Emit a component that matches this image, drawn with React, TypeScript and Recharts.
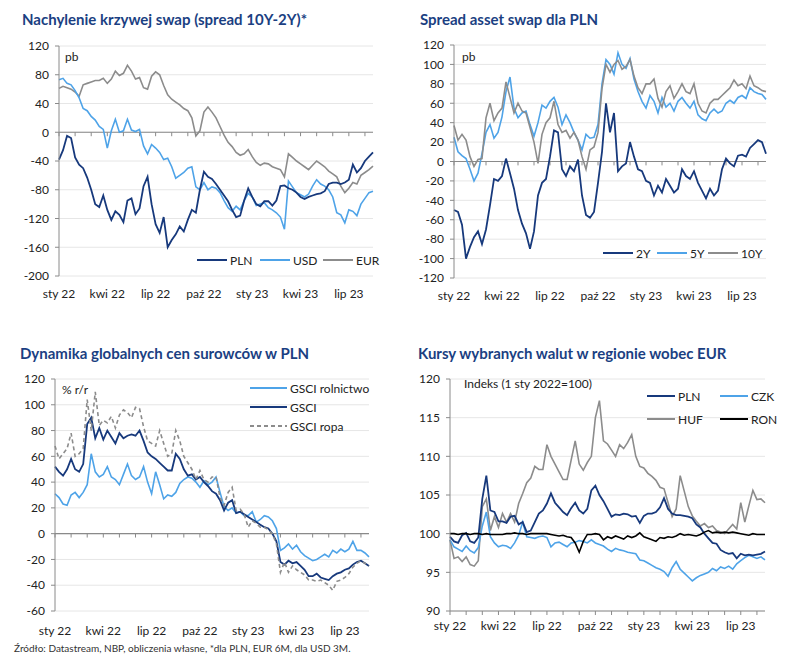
import React from 'react'
import { LineChart, Line, XAxis, YAxis, CartesianGrid, ReferenceLine } from 'recharts'

// x axis: months since 1 Jan 2022, one point roughly every week
const QUARTER_TICKS = [0, 3, 6, 9, 12, 15, 18]
const QUARTER_LABELS = ['sty 22', 'kwi 22', 'lip 22', 'paź 22', 'sty 23', 'kwi 23', 'lip 23']
const MONTH_TICKS = [0, 1, 2, 3, 4, 5, 6, 7, 8, 9, 10, 11, 12, 13, 14, 15, 16, 17, 18, 19]
const STEP = 0.25

// Nachylenie krzywej swap (pb)
const SLOPE_PLN = [
  -38, -25, -5, -8, -35, -45, -50, -63, -80, -100,
  -104, -88, -108, -122, -110, -115, -125, -95, -92, -114,
  -106, -75, -62, -100, -128, -140, -118, -160, -150, -142,
  -131, -138, -122, -108, -112, -80, -55, -62, -65, -72,
  -80, -88, -96, -108, -118, -116, -95, -78, -90, -100,
  -103, -96, -96, -102, -95, -75, -74, -78, -80, -84,
  -90, -93, -90, -88, -86, -85, -82, -72, -70, -70,
  -72, -70, -66, -45, -56, -50, -40, -34, -28,
]
const SLOPE_USD = [
  73, 75, 68, 66, 58, 48, 33, 30, 22, 17,
  8, 4, -22, 2, 18, 0, 2, 18, 3, 1,
  4, -19, -30, -17, -22, -28, -38, -36, -48, -64,
  -60, -56, -50, -48, -76, -80, -70, -80, -76, -78,
  -84, -95, -105, -110, -103, -108, -95, -85, -90, -102,
  -100, -98, -105, -108, -112, -118, -135, -68, -76, -84,
  -87, -90, -86, -75, -66, -72, -75, -80, -90, -112,
  -115, -126, -108, -110, -116, -100, -92, -84, -82,
]
const SLOPE_EUR = [
  61, 64, 62, 60, 56, 50, 66, 68, 70, 72,
  72, 75, 68, 74, 85, 79, 82, 93, 85, 74,
  76, 62, 60, 78, 84, 80, 65, 52, 46, 42,
  38, 33, 30, 20, -5, 2, 28, 35, 28, 20,
  8, -4, -14, -20, -28, -32, -30, -24, -34, -42,
  -46, -43, -44, -48, -50, -52, -62, -30, -35, -40,
  -44, -48, -52, -46, -40, -44, -48, -54, -58, -62,
  -75, -84, -78, -70, -72, -60, -56, -52, -47,
]

// Spread asset swap dla PLN (pb)
const ASW_2Y = [
  -50, -52, -65, -100, -88, -78, -72, -85, -70, -45,
  -18, -20, -15, 3, -12, -28, -50, -64, -74, -90,
  -72, -35, -22, -18, 5, 32, 30, -8, -15, -5,
  -10, 2, -35, -55, -58, -52, -22, 10, 60, 30,
  50, -10, -5, -2, 20, 5, -8, -10, -20, -22,
  -35, -25, -32, -18, -25, -32, -28, -8, -15, -18,
  -10, -22, -30, -38, -28, -35, -30, -8, 3, -2,
  -5, 6, 7, 5, 14, 18, 22, 20, 8,
]
const ASW_5Y = [
  25, 10, 6, 3, -8, -20, -12, 8, 30, 38,
  24, 30, 46, 72, 87, 55, 45, 50, 52, 38,
  26, 40, 58, 55, 62, 66, 56, 38, 48, 40,
  30, 22, 12, 28, 24, 25, 38, 80, 105, 100,
  90, 112, 100, 96, 106, 85, 72, 62, 55, 68,
  62, 50, 66, 56, 60, 52, 62, 66, 60, 55,
  62, 48, 44, 42, 50, 54, 50, 52, 60, 63,
  60, 66, 68, 65, 76, 72, 70, 69, 64,
]
const ASW_10Y = [
  37, 22, 28, 22, 5, -5, 2, 3, 45, 60,
  42, 50, 55, 82, 66, 50, 60, 52, 50, 35,
  20, -2, 28, 40, 45, 62, 38, 30, 32, 24,
  30, 22, 5, -8, 12, 15, 30, 75, 100, 92,
  100, 104, 95, 98, 105, 88, 76, 70, 80, 80,
  85, 65, 56, 72, 78, 65, 72, 80, 72, 70,
  80, 60, 52, 50, 60, 64, 64, 68, 72, 76,
  84, 78, 80, 75, 88, 78, 76, 73, 72,
]

// Dynamika globalnych cen surowców w PLN (% r/r)
const GSCI_AGRI = [
  31, 28, 23, 22, 30, 32, 28, 32, 38, 62,
  48, 44, 46, 52, 44, 42, 38, 46, 54, 45,
  42, 44, 52, 40, 31, 48, 38, 27, 30, 29,
  32, 39, 42, 44, 43, 40, 36, 41, 38, 40,
  44, 32, 21, 18, 20, 16, 17, 14, 14, 17,
  9, 11, 14, 13, 10, 4, -13, -11, -8, -12,
  -9, -14, -17, -19, -21, -20, -18, -16, -18, -13,
  -15, -12, -14, -12, -6, -13, -13, -15, -18,
]
const GSCI_ALL = [
  52, 48, 45, 50, 58, 50, 48, 54, 85, 90,
  74, 82, 73, 80, 75, 70, 78, 74, 76, 77,
  76, 80, 72, 63, 60, 58, 55, 52, 49, 49,
  62, 58, 50, 45, 46, 42, 44, 40, 37, 33,
  31, 26, 18, 24, 26, 16, 17, 15, 13, 11,
  9, 7, 5, 4, 0, -6, -22, -24, -21, -23,
  -22, -25, -28, -33, -33, -31, -34, -35, -36, -33,
  -31, -30, -28, -27, -24, -22, -21, -23, -25,
]
const GSCI_OIL = [
  68, 58, 62, 66, 78, 60, 62, 66, 104, 80,
  110, 84, 88, 86, 91, 82, 92, 96, 94, 90,
  98, 97, 83, 72, 70, 68, 80, 70, 60, 62,
  80, 72, 60, 55, 50, 42, 49, 42, 40, 44,
  44, 28, 22, 32, 36, 18, 19, 15, 5, 10,
  8, 5, 5, 3, 0, -8, -30, -22, -30, -25,
  -28, -30, -32, -36, -36, -37, -36, -38, -40, -44,
  -37, -36, -34, -31, -26, -23, -21, -23, -25,
]

// Kursy wybranych walut wobec EUR (1 sty 2022 = 100)
const FX_PLN = [
  99.6, 99.0, 98.8, 99.8, 100.1, 99.0, 98.8, 99.5, 104.5, 107.5,
  103.0, 102.8, 101.6, 101.6, 101.4, 102.2, 102.3, 101.2, 101.5, 100.2,
  100.4, 101.5, 102.6, 103.0, 103.9, 105.2, 104.0, 103.4, 102.8, 102.4,
  103.3, 104.0, 103.0, 102.6, 103.2, 105.6, 106.2, 105.0, 104.2, 103.2,
  102.2, 102.5, 102.4, 102.6, 102.5, 102.2, 102.3, 101.4, 102.3, 102.6,
  102.6, 102.8, 103.4, 104.6, 103.2, 102.6, 102.4, 102.4, 102.3, 102.2,
  102.0, 101.2, 100.8, 100.0, 99.4, 98.8, 98.7, 97.9, 97.6, 97.4,
  97.5, 96.8, 97.4, 97.2, 97.3, 97.2, 97.3, 97.4, 97.7,
]
const FX_CZK = [
  99.2, 98.3, 98.0, 97.7, 98.4, 97.8, 97.5, 98.2, 101.0, 102.8,
  99.6, 98.8, 98.3, 98.5, 98.4, 98.1, 98.8, 99.8, 101.5, 99.6,
  99.5, 99.4, 99.6, 99.7, 99.5, 98.3, 98.8, 98.9, 98.6, 98.3,
  98.8, 98.9, 99.1, 99.0, 98.8, 99.2, 98.8, 98.6, 98.4, 98.0,
  97.7, 98.1, 97.9, 97.8, 97.6, 97.5, 97.4, 96.6, 96.5, 96.2,
  95.9, 95.6, 95.4, 95.1, 94.5, 95.6, 96.4, 95.4, 94.9, 94.4,
  93.9, 94.3, 94.6, 94.8, 95.0, 95.5, 95.2, 95.7, 95.5, 95.8,
  95.4, 96.1, 96.5, 96.9, 97.2, 97.0, 96.8, 97.0, 96.6,
]
const FX_HUF = [
  99.2, 96.8, 97.0, 96.4, 97.0, 96.0, 95.8, 96.5, 103.5, 104.5,
  100.4, 102.2, 100.8, 102.6, 101.5, 102.6, 101.5, 103.9, 105.2, 106.6,
  107.2, 108.7, 108.3, 108.3, 111.5, 110.0, 109.0, 108.0, 107.0, 107.0,
  109.5, 112.0, 109.0, 108.2, 109.2, 110.0, 115.0, 117.2, 112.0, 111.6,
  110.8, 110.0, 111.5, 111.0, 111.8, 112.8, 110.0, 108.7, 108.5, 107.8,
  107.4, 106.9, 106.0, 105.8, 104.0, 102.2, 103.2, 107.5, 105.5, 103.5,
  102.3, 101.6, 101.0, 101.3, 100.8, 101.0, 100.4, 100.2, 100.0, 100.6,
  101.2, 100.6, 104.0, 101.5, 103.6, 105.6, 104.4, 104.5, 104.0,
]
const FX_RON = [
  100, 100, 99.9, 100, 100, 99.9, 100, 100, 99.9, 100,
  99.9, 99.9, 99.9, 99.9, 100, 100, 100.1, 100, 100, 99.9,
  100, 100, 100, 100, 100, 99.9, 99.8, 99.7, 99.8, 99.6,
  99.5, 98.8, 97.6, 99.0, 99.9, 99.9, 100, 99.9, 99.2, 99.6,
  99.4, 99.7, 99.5, 99.3, 99.7, 99.5, 99.7, 100.1, 99.6, 99.4,
  99.2, 99.0, 99.5, 99.4, 99.6, 99.5, 99.7, 100.0, 99.8, 99.9,
  99.8, 99.7, 99.9, 100.2, 100.4, 100.1, 100.2, 100.1, 100.2, 100.1,
  100.2, 100.1, 100.0, 99.9, 99.8, 100.0, 99.9, 99.9, 99.9,
]

const NAVY = '#17397c'
const LIGHT = '#4ea3e8'
const GRAY = '#8c8c8c'
const TITLE = '#1b3f82'
const AXIS = '#8a8a8a'
const GRID = '#e6e6e6'
const FONT = 'Lato, "Noto Sans", sans-serif'

const rows = (series: Record<string, number[]>) =>
  SLOPE_PLN.map((_, i) => {
    const row: Record<string, number> = { m: i * STEP }
    Object.keys(series).forEach((k) => (row[k] = series[k][i]))
    return row
  })

const slopeData = rows({ pln: SLOPE_PLN, usd: SLOPE_USD, eur: SLOPE_EUR })
const aswData = rows({ y2: ASW_2Y, y5: ASW_5Y, y10: ASW_10Y })
const gsciData = rows({ agri: GSCI_AGRI, all: GSCI_ALL, oil: GSCI_OIL })
const fxData = rows({ pln: FX_PLN, czk: FX_CZK, huf: FX_HUF, ron: FX_RON })

const tickStyle = { fill: '#222', fontSize: 12, fontFamily: FONT }
const quarterLabel = (v: number) => (v % 3 === 0 ? QUARTER_LABELS[v / 3] : '')

function yAxis(domain: [number, number], ticks: number[]) {
  return (
    <YAxis
      domain={domain}
      ticks={ticks}
      interval={0}
      width={50}
      axisLine={{ stroke: AXIS }}
      tickLine={{ stroke: AXIS }}
      tickSize={4}
      tickMargin={6}
      tick={tickStyle}
      allowDataOverflow
    />
  )
}

function xAxisPlain(margin = 7) {
  return (
    <XAxis
      dataKey="m"
      type="number"
      domain={[0, 19.5]}
      ticks={QUARTER_TICKS}
      interval={0}
      tickFormatter={quarterLabel}
      axisLine={false}
      tickLine={false}
      tickMargin={margin}
      tick={tickStyle}
      height={30}
    />
  )
}

// small monthly tick marks hanging from the zero line
function zeroTicks(len: number) {
  return MONTH_TICKS.map((m) => (
    <ReferenceLine
      key={`zt${m}`}
      segment={[{ x: m, y: 0 }, { x: m, y: -len }]}
      stroke={AXIS}
      strokeWidth={1}
    />
  ))
}

function LegendItem({ x, y, color, label, dash, w = 30 }: any) {
  return (
    <div style={{ position: 'absolute', left: x, top: y - 8, display: 'flex', alignItems: 'center', height: 16 }}>
      <svg width={w} height={4} style={{ display: 'block' }}>
        <line x1={0} y1={2} x2={w} y2={2} stroke={color} strokeWidth={2} strokeDasharray={dash} />
      </svg>
      <span style={{ marginLeft: 3, fontSize: 12, color: '#222', fontFamily: FONT }}>{label}</span>
    </div>
  )
}

function Title({ x, y, text }: any) {
  return (
    <div style={{ position: 'absolute', left: x, top: y, fontSize: 15, fontWeight: 700, color: TITLE, fontFamily: FONT, whiteSpace: 'nowrap' }}>
      {text}
    </div>
  )
}

function Note({ x, y, text }: any) {
  return (
    <div style={{ position: 'absolute', left: x, top: y, fontSize: 12, color: '#222', fontFamily: FONT, whiteSpace: 'nowrap' }}>
      {text}
    </div>
  )
}

export default function App() {
  return (
    <div style={{ position: 'absolute', left: 0, top: 0, width: 800, height: 663, background: '#fff', fontFamily: FONT }}>
      <Title x={22} y={10} text="Nachylenie krzywej swap (spread 10Y-2Y)*" />
      <Title x={420} y={10} text="Spread asset swap dla PLN" />
      <Title x={20} y={344} text="Dynamika globalnych cen surowców w PLN" />
      <Title x={418} y={344} text="Kursy wybranych walut w regionie wobec EUR" />

      {/* top-left */}
      <div style={{ position: 'absolute', left: 0, top: 0 }}>
        <LineChart width={400} height={320} data={slopeData} margin={{ top: 46, right: 27, bottom: 14, left: 9 }}>
          <CartesianGrid vertical={false} stroke={GRID} />
          {xAxisPlain()}
          {yAxis([-200, 120], [-200, -160, -120, -80, -40, 0, 40, 80, 120])}
          <ReferenceLine y={0} stroke={AXIS} strokeWidth={1.2} />
          {zeroTicks(5.5)}
          <Line dataKey="eur" stroke={GRAY} strokeWidth={1.6} dot={false} isAnimationActive={false} />
          <Line dataKey="usd" stroke={LIGHT} strokeWidth={1.6} dot={false} isAnimationActive={false} />
          <Line dataKey="pln" stroke={NAVY} strokeWidth={1.8} dot={false} isAnimationActive={false} />
        </LineChart>
        <Note x={65} y={49} text="pb" />
        <LegendItem x={197} y={260} color={NAVY} label="PLN" />
        <LegendItem x={260} y={260} color={LIGHT} label="USD" />
        <LegendItem x={323} y={260} color={GRAY} label="EUR" />
      </div>

      {/* top-right */}
      <div style={{ position: 'absolute', left: 395, top: 0 }}>
        <LineChart width={400} height={320} data={aswData} margin={{ top: 45, right: 29, bottom: 12, left: 9 }}>
          <CartesianGrid vertical={false} stroke={GRID} />
          {xAxisPlain()}
          {yAxis([-120, 120], [-120, -100, -80, -60, -40, -20, 0, 20, 40, 60, 80, 100, 120])}
          <ReferenceLine y={0} stroke={AXIS} strokeWidth={1.2} />
          {zeroTicks(4)}
          <Line dataKey="y2" stroke={NAVY} strokeWidth={1.8} dot={false} isAnimationActive={false} />
          <Line dataKey="y5" stroke={LIGHT} strokeWidth={1.6} dot={false} isAnimationActive={false} />
          <Line dataKey="y10" stroke={GRAY} strokeWidth={1.6} dot={false} isAnimationActive={false} />
        </LineChart>
        <Note x={67} y={49} text="pb" />
        <LegendItem x={208} y={253} color={NAVY} label="2Y" />
        <LegendItem x={262} y={253} color={LIGHT} label="5Y" />
        <LegendItem x={313} y={253} color={GRAY} label="10Y" />
      </div>

      {/* bottom-left */}
      <div style={{ position: 'absolute', left: 0, top: 330 }}>
        <LineChart width={400} height={320} data={gsciData} margin={{ top: 49, right: 31, bottom: 9, left: 5 }}>
          <CartesianGrid vertical={false} stroke={GRID} />
          {xAxisPlain(9)}
          {yAxis([-60, 120], [-60, -40, -20, 0, 20, 40, 60, 80, 100, 120])}
          <ReferenceLine y={0} stroke={AXIS} strokeWidth={1.2} />
          {zeroTicks(3)}
          <Line dataKey="agri" stroke={LIGHT} strokeWidth={1.6} dot={false} isAnimationActive={false} />
          <Line dataKey="all" stroke={NAVY} strokeWidth={1.8} dot={false} isAnimationActive={false} />
          <Line dataKey="oil" stroke={GRAY} strokeWidth={1.6} strokeDasharray="4 3" dot={false} isAnimationActive={false} />
        </LineChart>
        <Note x={62} y={52} text="% r/r" />
        <LegendItem x={250} y={58} color={LIGHT} label="GSCI rolnictwo" w={37} />
        <LegendItem x={250} y={77} color={NAVY} label="GSCI" w={37} />
        <LegendItem x={250} y={96} color={GRAY} label="GSCI ropa" w={37} dash="4 3" />
      </div>

      {/* bottom-right */}
      <div style={{ position: 'absolute', left: 395, top: 330 }}>
        <LineChart width={400} height={320} data={fxData} margin={{ top: 49, right: 30, bottom: 9, left: 5 }}>
          <CartesianGrid vertical={false} stroke={GRID} />
          <XAxis
            dataKey="m"
            type="number"
            domain={[0, 19.5]}
            ticks={MONTH_TICKS}
            interval={0}
            tickFormatter={quarterLabel}
            axisLine={{ stroke: AXIS }}
            tickLine={{ stroke: AXIS }}
            tickSize={4}
            tickMargin={6}
            tick={tickStyle}
            height={30}
          />
          {yAxis([90, 120], [90, 95, 100, 105, 110, 115, 120])}
          <Line dataKey="huf" stroke={GRAY} strokeWidth={1.6} dot={false} isAnimationActive={false} />
          <Line dataKey="czk" stroke={LIGHT} strokeWidth={1.6} dot={false} isAnimationActive={false} />
          <Line dataKey="pln" stroke={NAVY} strokeWidth={1.8} dot={false} isAnimationActive={false} />
          <Line dataKey="ron" stroke="#000" strokeWidth={1.6} dot={false} isAnimationActive={false} />
        </LineChart>
        <Note x={69} y={46} text="Indeks (1 sty 2022=100)" />
        <LegendItem x={252} y={66} color={NAVY} label="PLN" w={28} />
        <LegendItem x={325} y={66} color={LIGHT} label="CZK" w={28} />
        <LegendItem x={252} y={89} color={GRAY} label="HUF" w={28} />
        <LegendItem x={325} y={89} color="#000" label="RON" w={28} />
      </div>

      <div style={{ position: 'absolute', left: 14, top: 642, fontSize: 10, color: '#333', fontFamily: FONT, whiteSpace: 'nowrap' }}>
        Źródło: Datastream, NBP, obliczenia własne, *dla PLN, EUR 6M, dla USD 3M.
      </div>
    </div>
  )
}
